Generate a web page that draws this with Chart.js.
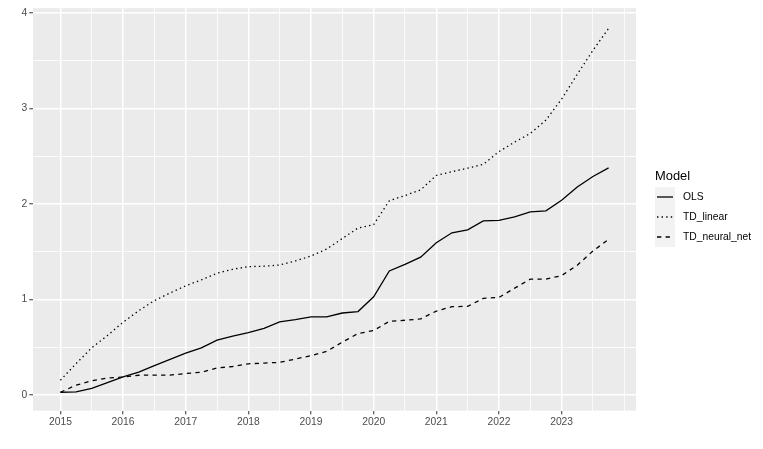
<!DOCTYPE html>
<html>
<head>
<meta charset="utf-8">
<script src="https://cdn.jsdelivr.net/npm/chart.js@4/dist/chart.umd.min.js"></script>
<style>
  html, body { margin: 0; padding: 0; background: #fff; }
  #wrap { width: 763px; height: 449px; }
</style>
</head>
<body>
<div id="wrap"><canvas id="lines" width="763" height="449"></canvas></div>
<script>
// quarterly dates, 2015 Q1 .. 2023 Q4
var dates = [2015, 2015.25, 2015.5, 2015.75, 2016, 2016.25, 2016.5, 2016.75,
  2017, 2017.25, 2017.5, 2017.75, 2018, 2018.25, 2018.5, 2018.75,
  2019, 2019.25, 2019.5, 2019.75, 2020, 2020.25, 2020.5, 2020.75,
  2021, 2021.25, 2021.5, 2021.75, 2022, 2022.25, 2022.5, 2022.75,
  2023, 2023.25, 2023.5, 2023.75];

var ols = [0.03, 0.035, 0.07, 0.13, 0.19, 0.24, 0.31, 0.375,
  0.44, 0.495, 0.575, 0.617, 0.655, 0.70, 0.767, 0.79,
  0.82, 0.82, 0.86, 0.875, 1.03, 1.30, 1.37, 1.445,
  1.595, 1.70, 1.73, 1.825, 1.83, 1.866, 1.92, 1.93,
  2.04, 2.18, 2.29, 2.38];

var tdLinear = [0.156, 0.33, 0.496, 0.624, 0.763, 0.884, 0.99, 1.07,
  1.145, 1.207, 1.277, 1.318, 1.345, 1.35, 1.363, 1.405,
  1.457, 1.53, 1.64, 1.75, 1.786, 2.036, 2.09, 2.15,
  2.30, 2.34, 2.376, 2.417, 2.55, 2.65, 2.74, 2.88,
  3.10, 3.36, 3.61, 3.84];

var tdNeural = [0.03, 0.104, 0.15, 0.18, 0.19, 0.208, 0.21, 0.21,
  0.226, 0.24, 0.284, 0.30, 0.328, 0.336, 0.343, 0.378,
  0.413, 0.458, 0.555, 0.645, 0.676, 0.773, 0.784, 0.798,
  0.88, 0.926, 0.93, 1.013, 1.023, 1.12, 1.214, 1.214,
  1.252, 1.36, 1.51, 1.63];

var seriesNames = ['OLS', 'TD_linear', 'TD_neural_net'];
var xTicks = [2015, 2015.5, 2016, 2016.5, 2017, 2017.5, 2018, 2018.5, 2019, 2019.5,
  2020, 2020.5, 2021, 2021.5, 2022, 2022.5, 2023, 2023.5, 2024];
var yTicks = [0, 0.5, 1, 1.5, 2, 2.5, 3, 3.5, 4];
var xMajor = [2015, 2016, 2017, 2018, 2019, 2020, 2021, 2022, 2023];

var FONT = '"Liberation Sans", Arial, sans-serif';
var dashes = [[], [1.4, 3.2], [4.3, 4.3]];

function pts(vals) {
  return vals.map((v, i) => ({ x: dates[i], y: v }));
}

function isMajorX(v) { return xMajor.indexOf(v) >= 0; }
function isMajorY(v) { return Number.isInteger(v); }

// grey panel behind the grid, ggplot style
const panelBg = {
  id: 'panelBg',
  beforeDraw(chart) {
    let a = chart.chartArea;
    let ctx = chart.ctx;
    ctx.save();
    ctx.fillStyle = '#EBEBEB';
    ctx.fillRect(a.left, a.top, a.right - a.left, a.bottom - a.top);
    ctx.restore();
  }
};

// legend on the right with title "Model"
const modelLegend = {
  id: 'modelLegend',
  afterDraw(chart) {
    let ctx = chart.ctx;
    ctx.save();
    ctx.fillStyle = '#000';
    ctx.font = '12.9px ' + FONT;
    ctx.textBaseline = 'middle';
    ctx.textAlign = 'left';
    ctx.fillText('Model', 655, 176);

    let top = 187;
    let keyH = 20;
    ctx.fillStyle = '#F2F2F2';
    ctx.fillRect(655, top, 20, keyH * 3);

    seriesNames.forEach((name, i) => {
      let cy = top + keyH * i + keyH / 2;
      ctx.strokeStyle = '#000';
      ctx.lineWidth = 1.3;
      ctx.setLineDash(dashes[i]);
      ctx.beginPath();
      ctx.moveTo(657, cy);
      ctx.lineTo(673, cy);
      ctx.stroke();
      ctx.setLineDash([]);
      ctx.fillStyle = '#000';
      ctx.font = '10.3px ' + FONT;
      ctx.fillText(name, 683, cy);
    });
    ctx.restore();
  }
};

var data = {
  datasets: [
    { label: seriesNames[0], data: pts(ols), borderDash: dashes[0] },
    { label: seriesNames[1], data: pts(tdLinear), borderDash: dashes[1] },
    { label: seriesNames[2], data: pts(tdNeural), borderDash: dashes[2] }
  ].map(d => Object.assign(d, {
    borderColor: '#000',
    backgroundColor: '#000',
    borderWidth: 1.3,
    pointRadius: 0,
    tension: 0,
    fill: false
  }))
};

let canvas = document.getElementById('lines');

let config = {
  type: 'line',
  data: data,
  plugins: [panelBg, modelLegend],
  options: {
    responsive: false,
    animation: false,
    devicePixelRatio: 1,
    layout: {
      padding: { top: 5.7, right: 127, left: 0, bottom: 0 }
    },
    plugins: {
      legend: { display: false },
      tooltip: { enabled: false }
    },
    scales: {
      x: {
        type: 'linear',
        min: 2014.5625,
        max: 2024.1875,
        afterBuildTicks: (axis) => { axis.ticks = xTicks.map(v => ({ value: v })) },
        afterFit: (axis) => { axis.height = 38.3 },
        border: { display: false },
        grid: {
          color: '#FFFFFF',
          lineWidth: (c) => isMajorX(c.tick.value) ? 1.5 : 0.8,
          tickColor: (c) => isMajorX(c.tick.value) ? '#333333' : 'rgba(0,0,0,0)',
          tickLength: 3.7,
          tickWidth: 1
        },
        ticks: {
          autoSkip: false,
          maxRotation: 0,
          padding: 2,
          color: '#4D4D4D',
          font: { family: FONT, size: 10.3 },
          callback: (v) => isMajorX(v) ? String(v) : ''
        }
      },
      y: {
        type: 'linear',
        min: -0.163,
        max: 4.052,
        afterBuildTicks: (axis) => { axis.ticks = yTicks.map(v => ({ value: v })) },
        afterFit: (axis) => { axis.width = 33 },
        border: { display: false },
        grid: {
          color: '#FFFFFF',
          lineWidth: (c) => isMajorY(c.tick.value) ? 1.5 : 0.8,
          tickColor: (c) => isMajorY(c.tick.value) ? '#333333' : 'rgba(0,0,0,0)',
          tickLength: 3.7,
          tickWidth: 1
        },
        ticks: {
          padding: 2,
          color: '#4D4D4D',
          font: { family: FONT, size: 10.3 },
          callback: (v) => isMajorY(v) ? String(v) : ''
        }
      }
    }
  }
};

var LineChart = new Chart(canvas, config);
</script>
</body>
</html>
